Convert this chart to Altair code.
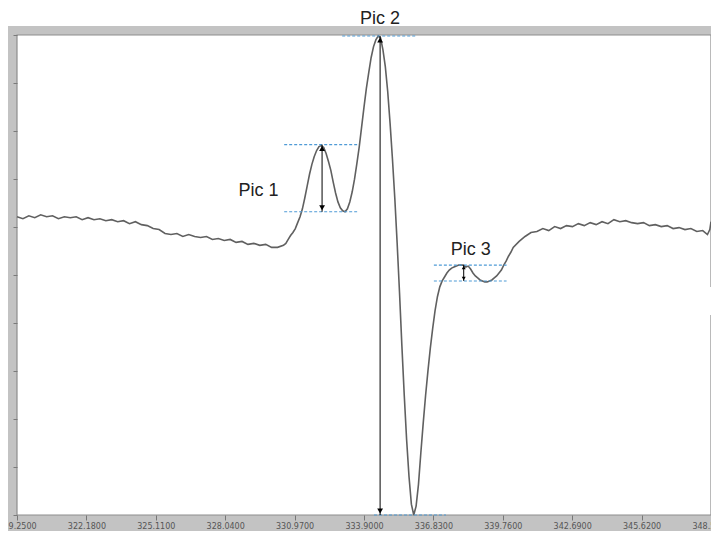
import altair as alt
import pandas as pd

# ---- spectrum data (field in G, signal in arbitrary units) ----
field_left = [319.25, 319.50, 319.75, 320.00, 320.25, 320.50, 320.75, 321.00, 321.25, 321.50,
              321.75, 322.00, 322.25, 322.50, 322.75, 323.00, 323.25, 323.50, 323.75, 324.00,
              324.25, 324.50, 324.75, 325.00, 325.25, 325.50, 325.75, 326.00, 326.25, 326.50,
              326.75, 327.00, 327.25, 327.50, 327.75, 328.00, 328.25, 328.50, 328.75, 329.00,
              329.25, 329.50, 329.75, 330.00, 330.25, 330.50]
signal_left = [302, 300, 303, 301, 304, 302, 303, 300, 302, 301,
               302, 299, 301, 299, 300, 298, 299, 297, 298, 295,
               297, 294, 293, 290, 289, 285, 284, 285, 282, 284,
               282, 281, 282, 279, 280, 278, 279, 276, 277, 274,
               275, 273, 274, 271, 271, 273]

field_mid = [330.6, 330.7, 330.8, 330.9, 331.0, 331.1, 331.2, 331.3, 331.4, 331.5,
             331.6, 331.7, 331.8, 331.9, 332.0, 332.1, 332.2, 332.3, 332.4, 332.5,
             332.6, 332.7, 332.8, 332.9, 333.0, 333.1, 333.2, 333.3, 333.4, 333.5,
             333.6, 333.7, 333.8, 333.9, 334.0, 334.1, 334.2, 334.3, 334.4, 334.5,
             334.6, 334.7, 334.8, 334.9, 335.0, 335.1, 335.2, 335.3, 335.4, 335.5,
             335.6, 335.7, 335.8, 335.9, 336.0, 336.1, 336.2, 336.3, 336.4, 336.5,
             336.6, 336.7, 336.8, 336.9, 337.0, 337.1, 337.2, 337.3, 337.4, 337.5,
             337.6, 337.7, 337.8, 337.9, 338.0, 338.1, 338.2, 338.3, 338.4, 338.5,
             338.6, 338.7, 338.8, 338.9, 339.0, 339.1, 339.2, 339.3, 339.4, 339.5,
             339.6, 339.7, 339.8, 339.9, 340.0, 340.1, 340.2]
signal_mid = [275, 279, 283, 286, 290, 296, 302, 310, 321, 333,
              345, 355, 363, 369, 373, 374, 372, 366, 358, 349,
              337, 326, 317, 311, 308, 307, 310, 317, 327, 340,
              356, 373, 393, 413, 432, 448, 463, 474, 481, 485,
              483, 471, 454, 429, 397, 361, 321, 275, 225, 171,
              121, 76, 39, 11, 0, 9, 31, 63, 93, 121,
              146, 169, 189, 207, 221, 231, 237, 241, 245, 248,
              250, 251, 252, 253, 253, 253, 251, 252, 249, 245,
              242, 240, 238, 237, 236, 236, 237, 238, 240, 242,
              245, 248, 253, 257, 262, 266, 271]

field_right = [340.45, 340.70, 340.95, 341.20, 341.45, 341.70, 341.95, 342.20, 342.45, 342.70,
               342.95, 343.20, 343.45, 343.70, 343.95, 344.20, 344.45, 344.70, 344.95, 345.20,
               345.45, 345.70, 345.95, 346.20, 346.45, 346.70, 346.95, 347.20, 347.45, 347.70,
               347.95, 348.20, 348.40, 348.50, 348.55]
signal_right = [277, 282, 286, 287, 290, 288, 292, 290, 293, 292,
                295, 293, 296, 294, 297, 295, 299, 297, 298, 296,
                295, 296, 293, 294, 292, 293, 290, 291, 289, 290,
                287, 288, 284, 289, 297]

x_ticks = [319.25, 322.18, 325.11, 328.04, 330.97, 333.90, 336.83, 339.76, 342.69, 345.62, 348.55]
y_ticks = [0, 48.6, 97.2, 145.8, 194.4, 243, 291.6, 340.2, 388.8, 437.4, 486]

# ---- annotations ----
dash_x1 = [330.53, 330.53, 332.98, 334.32, 336.85, 336.85]
dash_x2 = [333.61, 333.61, 336.09, 337.36, 339.92, 339.92]
dash_y = [375, 307, 485, 0, 253, 237]

arrow_x = [332.13, 334.58, 338.11]
arrow_top = [375, 485, 253]
arrow_bot = [307, 0, 237]
head_size = [34, 34, 16]
head_off = [4, 4, 2.5]

label_text = ["Pic 1", "Pic 2", "Pic 3"]
label_x = [329.45, 334.58, 338.41]
label_y = [328, 502, 268]

spec = pd.DataFrame({"field": field_left + field_mid + field_right,
                     "signal": signal_left + signal_mid + signal_right})
dashes = pd.DataFrame({"x1": dash_x1, "x2": dash_x2, "y": dash_y})
arrows = pd.DataFrame({"x": arrow_x, "top": arrow_top, "bot": arrow_bot})
heads = pd.DataFrame({
    "x": arrow_x * 2,
    "y": [t - o for t, o in zip(arrow_top, head_off)] + [b + o for b, o in zip(arrow_bot, head_off)],
    "shape": ["triangle-up"] * 3 + ["triangle-down"] * 3,
    "size": head_size * 2,
})
labels = pd.DataFrame({"text": label_text, "x": label_x, "y": label_y})

W, H = 694, 480
PAD_B = 16
xs = alt.Scale(domain=[319.25, 348.55], nice=False, zero=False)
ys = alt.Scale(domain=[0, 486], nice=False, zero=False)

one = pd.DataFrame({"a": [0]})

frame = alt.Chart(one).mark_rect(color="#c3c3c3").encode(
    x=alt.value(-9), x2=alt.value(W), y=alt.value(-9), y2=alt.value(H + PAD_B))
plot_bg = alt.Chart(one).mark_rect(fill="white", stroke="#8e8e8e", strokeWidth=1.2).encode(
    x=alt.value(0), x2=alt.value(W), y=alt.value(0), y2=alt.value(H))
patch = alt.Chart(one).mark_rect(fill="white").encode(
    x=alt.value(673), x2=alt.value(W), y=alt.value(252), y2=alt.value(280))

line = alt.Chart(spec).mark_line(color="#606060", strokeWidth=1.6).encode(
    x=alt.X("field:Q", scale=xs,
            axis=alt.Axis(values=x_ticks, format=".4f", title=None, grid=False, domain=False,
                          tickColor="#777", tickSize=5, labelFontSize=8, labelColor="#555",
                          labelFont="DejaVu Sans", labelPadding=2, labelOverlap=False,
                          labelBound=False, labelFlush=False, zindex=1)),
    y=alt.Y("signal:Q", scale=ys,
            axis=alt.Axis(values=y_ticks, labels=False, title=None, grid=False, domain=False,
                          tickColor="#7a7a7a", tickSize=4, zindex=1)),
)

dash_rules = alt.Chart(dashes).mark_rule(color="#4f9bd6", strokeDash=[3, 2], strokeWidth=1.1).encode(
    x=alt.X("x1:Q", scale=xs), x2="x2:Q", y=alt.Y("y:Q", scale=ys))

arrow_rules = alt.Chart(arrows).mark_rule(color="black", strokeWidth=1).encode(
    x=alt.X("x:Q", scale=xs), y=alt.Y("top:Q", scale=ys), y2="bot:Q")

arrow_heads = alt.Chart(heads).mark_point(filled=True, color="black", opacity=1).encode(
    x=alt.X("x:Q", scale=xs), y=alt.Y("y:Q", scale=ys),
    shape=alt.Shape("shape:N", scale=None),
    size=alt.Size("size:Q", scale=None))

texts = alt.Chart(labels).mark_text(font="Liberation Sans", fontSize=18, color="#222").encode(
    x=alt.X("x:Q", scale=xs), y=alt.Y("y:Q", scale=ys), text="text:N")

chart = alt.layer(frame, plot_bg, patch, line, dash_rules, arrow_rules, arrow_heads, texts).properties(
    width=W, height=H,
    padding={"left": 9, "top": 27, "right": 0, "bottom": PAD_B},
    autosize="none",
    background="white",
).configure_view(stroke=None)

chart.save("out.html", embed_options={"renderer": "svg", "actions": False})
